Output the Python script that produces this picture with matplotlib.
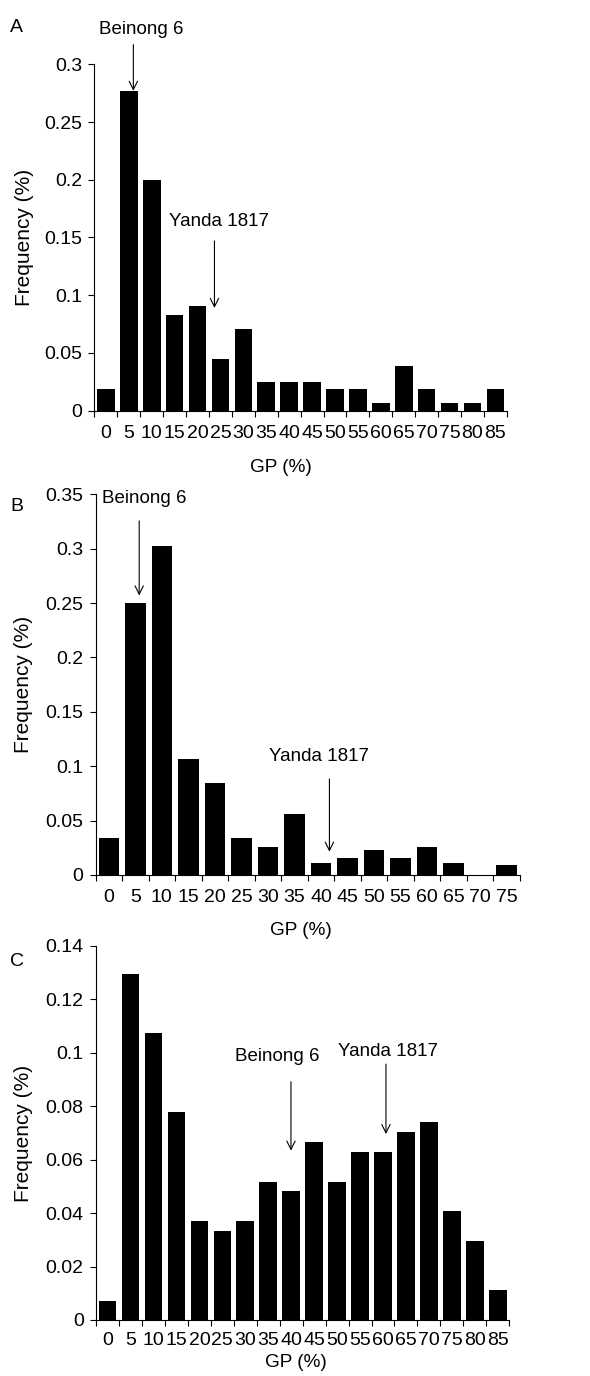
import matplotlib
matplotlib.use('Agg')
from matplotlib import pyplot as plt

plt.rcParams['font.family'] = ['Liberation Sans', 'DejaVu Sans']

# GP classes (%) and frequencies
gp_A = ['0', '5', '10', '15', '20', '25', '30', '35', '40', '45', '50', '55', '60', '65', '70', '75', '80', '85']
freq_A = [0.019, 0.277, 0.200, 0.083, 0.091, 0.045, 0.071, 0.025, 0.025, 0.025,
          0.019, 0.019, 0.0065, 0.039, 0.019, 0.0065, 0.0065, 0.019]

gp_B = ['0', '5', '10', '15', '20', '25', '30', '35', '40', '45', '50', '55', '60', '65', '70', '75']
freq_B = [0.0337, 0.250, 0.302, 0.107, 0.085, 0.0337, 0.0257, 0.0558, 0.0113, 0.0156,
          0.0233, 0.0156, 0.0257, 0.0113, 0.0, 0.0089]

gp_C = ['0', '5', '10', '15', '20', '25', '30', '35', '40', '45', '50', '55', '60', '65', '70', '75', '80', '85']
freq_C = [0.0072, 0.1294, 0.1074, 0.0777, 0.0372, 0.0334, 0.0372, 0.0515, 0.0483, 0.0665,
          0.0515, 0.0628, 0.0628, 0.0703, 0.0740, 0.0408, 0.0297, 0.0111]

# annotations: (text, text x, text y, arrow x, arrow top, arrow bottom)
notes_A = [('Beinong 6', 1.54, 0.330, 1.2, 0.317, 0.277),
           ('Yanda 1817', 4.95, 0.164, 4.74, 0.147, 0.089)]
notes_B = [('Beinong 6', 1.35, 0.346, 1.145, 0.3255, 0.257),
           ('Yanda 1817', 7.94, 0.1087, 8.32, 0.0883, 0.0214)]
notes_C = [('Beinong 6', 7.38, 0.0986, 7.99, 0.0892, 0.0634),
           ('Yanda 1817', 12.24, 0.1004, 12.13, 0.0958, 0.0696)]

FS_TICK = 14
FS_YLAB = 15
FS_XLAB = 13.7
FS_NOTE = 13.5

fig = plt.figure(figsize=(5.9, 13.76), dpi=100)


def panel(rect, cats, vals, ymax, ystep, notes, letter, letter_xy, ylab_x, xlab_xy, xpad):
    ax = fig.add_axes(rect)
    n = len(cats)
    pos = list(range(n))
    ax.bar(pos, vals, width=0.77, color='black')
    ax.set_xlim(-0.5, n - 0.5)
    ax.set_ylim(0, ymax)
    nt = int(round(ymax / ystep))
    yt = [ystep * k for k in range(nt + 1)]
    ax.set_yticks(yt)
    ax.set_yticklabels(['%g' % round(v, 3) for v in yt], fontsize=FS_TICK)
    ax.set_xticks(pos)
    ax.set_xticklabels(cats, fontsize=FS_TICK)
    # tick marks sit between the categories, like Excel
    ax.set_xticks([k - 0.5 for k in range(n + 1)], minor=True)
    ax.tick_params(axis='x', which='major', length=0, pad=xpad)
    ax.tick_params(axis='x', which='minor', length=4, width=0.8, direction='out')
    ax.tick_params(axis='y', length=4, width=0.8, pad=5)
    for s in ['top', 'right']:
        ax.spines[s].set_visible(False)
    for s in ['left', 'bottom']:
        ax.spines[s].set_linewidth(0.8)
    ax.set_ylabel('Frequency (%)', fontsize=FS_YLAB)
    ax.yaxis.set_label_coords(ylab_x, 0.5)
    ax.set_xlabel('GP (%)', fontsize=FS_XLAB)
    ax.xaxis.set_label_coords(xlab_xy[0], xlab_xy[1])
    for txt, tx, ty, axx, atop, abot in notes:
        ax.text(tx, ty, txt, fontsize=FS_NOTE, ha='center', va='center', clip_on=False)
        ax.annotate('', xy=(axx, abot), xytext=(axx, atop), annotation_clip=False,
                    arrowprops=dict(arrowstyle='->,head_length=0.6,head_width=0.3',
                                    lw=0.8, color='black', shrinkA=0, shrinkB=0))
    fig.text(letter_xy[0], letter_xy[1], letter, fontsize=FS_TICK, ha='center', va='center')
    return ax


panel([0.160, 0.7015, 0.699, 0.2518], gp_A, freq_A, 0.3, 0.05, notes_A, 'A',
      (0.028, 1 - 28 / 1376), -0.146, (0.453, -0.138), 10.5)
panel([0.162, 0.3641, 0.719, 0.2767], gp_B, freq_B, 0.35, 0.05, notes_B, 'B',
      (0.028, 1 - 506.7 / 1376), -0.147, (0.484, -0.123), 10.4)
panel([0.163, 0.0407, 0.700, 0.2718], gp_C, freq_C, 0.14, 0.02, notes_C, 'C',
      (0.028, 1 - 961.7 / 1376), -0.152, (0.484, -0.0896), 9.0)

plt.savefig('out.png', dpi=100)
plt.close(fig)
